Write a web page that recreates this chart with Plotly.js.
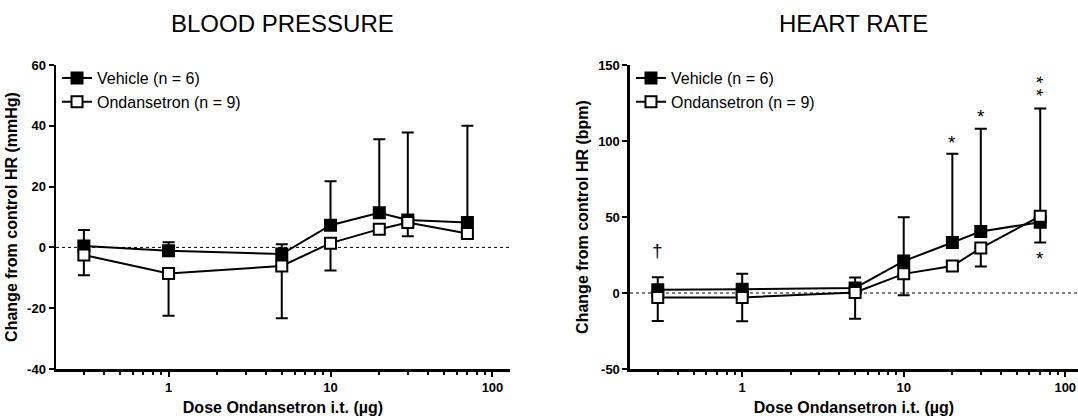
<!DOCTYPE html>
<html>
<head>
<meta charset="utf-8">
<script src="https://cdn.plot.ly/plotly-3.0.1.min.js"></script>
<style>html,body{margin:0;padding:0;background:#fff;}#chart{width:1078px;height:416px;}</style>
</head>
<body>
<div id="chart"></div>
<script>
// Doses (µg, i.t.)
const doses = [0.3, 1, 5, 10, 20, 30, 70];

// Blood pressure change (mmHg)
const bpVehicleMean = [0.5, -1.1, -2.2, 7.3, 11.4, 9.0, 8.2];
const bpVehicleErrUp = [5.2, 2.8, 3.2, 14.5, 24.2, 28.8, 31.8];
const bpOndMean = [-2.5, -8.6, -6.1, 1.4, 6.0, 8.2, 4.6];
const bpOndErrDown = [6.7, 13.9, 17.2, 9.0, 1.5, 4.5, 1.5];

// Heart rate change (bpm)
const hrVehicleMean = [2.2, 2.4, 3.3, 21.0, 33.2, 40.5, 46.6];
const hrVehicleErrUp = [8.2, 10.2, 6.9, 28.9, 58.4, 67.5, 74.8];
const hrOndMean = [-2.9, -2.9, 0.4, 12.6, 17.7, 29.6, 50.5];
const hrOndErrDown = [15.5, 15.7, 17.4, 14.1, 3.0, 12.1, 17.3];

const zeros = doses.map(() => 0);

const majorTicks = [1, 10, 100];
const majorLabels = ['1', '10', '100'];
const minorTicks = [0.3,0.4,0.5,0.6,0.7,0.8,0.9,2,3,4,5,6,7,8,9,20,30,40,50,60,70,80,90];

const bpTicks = [-40, -20, 0, 20, 40, 60];
const bpLabels = ['-40', '-20', '0', '20', '40', '60'];
const hrTicks = [-50, 0, 50, 100, 150];
const hrLabels = ['-50', '0', '50', '100', '150'];

// significance marks on heart rate panel: [dose, y, text]
const hrMarks = [
  [0.3, 28, '†'],
  [20, 101.5, '*'],
  [30, 118.5, '*'],
  [70, 25.5, '*']
];
// stacked double mark above the 70 µg dose
const hrDoubleMark = [70, 136, '* *'];

const vehicleName = 'Vehicle (n = 6)';
const ondName = 'Ondansetron (n = 9)';

const FONT = 'Liberation Sans, Arial, Helvetica, sans-serif';
const bold = s => '<b>' + s + '</b>';

function trace(x, y, err, up, name, filled, xa, ya, lg) {
  return {
    x: x, y: y, name: name, type: 'scatter', mode: 'lines+markers',
    xaxis: xa, yaxis: ya, legend: lg,
    line: {color: '#000', width: 2},
    marker: {symbol: 'square', size: 11, color: filled ? '#000' : '#fff', line: {color: '#000', width: 2}},
    error_y: {type: 'data', symmetric: false,
      array: up ? err : zeros, arrayminus: up ? zeros : err,
      color: '#000', thickness: 2, width: 6},
    cliponaxis: false
  };
}

const data = [
  trace(doses, bpVehicleMean, bpVehicleErrUp, true, vehicleName, true, 'x', 'y', 'legend'),
  trace(doses, bpOndMean, bpOndErrDown, false, ondName, false, 'x', 'y', 'legend'),
  trace(doses, hrVehicleMean, hrVehicleErrUp, true, vehicleName, true, 'x2', 'y2', 'legend2'),
  trace(doses, hrOndMean, hrOndErrDown, false, ondName, false, 'x2', 'y2', 'legend2')
];

const tickFont = {family: FONT, size: 13, color: '#000'};
const titleFont = {family: FONT, size: 16, color: '#000'};

function xaxis(domain, range, anchor) {
  return {
    type: 'log', domain: domain, range: range, anchor: anchor,
    showgrid: false, zeroline: false,
    showline: true, linecolor: '#000', linewidth: 2.5,
    ticks: 'outside', ticklen: 5, tickwidth: 2, tickcolor: '#000',
    tickmode: 'array', tickvals: majorTicks, ticktext: majorLabels.map(bold),
    tickfont: tickFont,
    minor: {tickmode: 'array', tickvals: minorTicks, ticks: 'outside', ticklen: 3, tickwidth: 2, tickcolor: '#000', showgrid: false},
    title: {text: bold('Dose Ondansetron i.t. (µg)'), font: titleFont, standoff: 8}
  };
}
function yaxis(range, ticks, labels, title, anchor) {
  return {
    range: range, anchor: anchor, domain: [0, 1],
    showgrid: false, zeroline: false,
    showline: true, linecolor: '#000', linewidth: 2.5,
    ticks: 'outside', ticklen: 5, tickwidth: 2, tickcolor: '#000',
    tickmode: 'array', tickvals: ticks, ticktext: labels.map(bold),
    tickfont: tickFont,
    title: {text: bold(title), font: titleFont, standoff: 6}
  };
}

const annotations = [
  {text: 'BLOOD PRESSURE', xref: 'x domain', yref: 'paper', x: 0.5, y: 1, yshift: 42, showarrow: false,
   font: {family: FONT, size: 24, color: '#000'}, yanchor: 'middle'},
  {text: 'HEART RATE', xref: 'x2 domain', yref: 'paper', x: 0.5, y: 1, yshift: 42, showarrow: false,
   font: {family: FONT, size: 24, color: '#000'}, yanchor: 'middle'}
].concat(hrMarks.map(m => ({
  text: m[2], xref: 'x2', yref: 'y2', x: Math.log10(m[0]), y: m[1], showarrow: false,
  font: {family: FONT, size: 19, color: '#000'}, yanchor: 'middle', yshift: m[2] === '*' ? -4 : 0
}))).concat([{
  text: hrDoubleMark[2], xref: 'x2', yref: 'y2', x: Math.log10(hrDoubleMark[0]), y: hrDoubleMark[1],
  showarrow: false, textangle: 90, xshift: -4,
  font: {family: FONT, size: 19, color: '#000'}
}]);

const shapes = [
  {type: 'line', xref: 'x domain', yref: 'y', x0: 0, x1: 1, y0: 0, y1: 0, layer: 'below',
   line: {color: '#000', width: 1, dash: 'dot'}},
  {type: 'line', xref: 'x2 domain', yref: 'y2', x0: 0, x1: 1, y0: 0, y1: 0, layer: 'below',
   line: {color: '#000', width: 1, dash: 'dot'}}
];

const legendBase = {
  xanchor: 'left', yanchor: 'top', bgcolor: 'rgba(0,0,0,0)', borderwidth: 0,
  font: {family: FONT, size: 16, color: '#000'}, tracegroupgap: 0, traceorder: 'normal'
};

const layout = {
  width: 1078, height: 416,
  margin: {l: 56, r: 0, t: 65, b: 47},
  paper_bgcolor: '#fff', plot_bgcolor: '#fff',
  font: {family: FONT, color: '#000'},
  showlegend: true,
  xaxis: xaxis([0, 0.4442], [-0.695, 2.108], 'y'),
  yaxis: yaxis([-40, 60], bpTicks, bpLabels, 'Change from control HR (mmHg)', 'x'),
  xaxis2: xaxis([0.5616, 1], [-0.695, 2.079], 'y2'),
  yaxis2: yaxis([-50, 150], hrTicks, hrLabels, 'Change from control HR (bpm)', 'x2'),
  legend: Object.assign({x: 0.001, y: 1.013}, legendBase),
  legend2: Object.assign({x: 0.5626, y: 1.013}, legendBase),
  annotations: annotations,
  shapes: shapes
};

Plotly.newPlot('chart', data, layout, {staticPlot: true, displayModeBar: false});
</script>
</body>
</html>
